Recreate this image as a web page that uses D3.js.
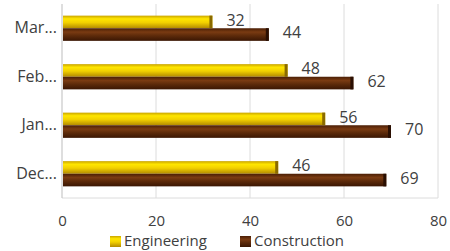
<!DOCTYPE html>
<html>
<head>
<meta charset="utf-8">
<script src="https://cdn.jsdelivr.net/npm/d3@7"></script>
<style>
  body { margin: 0; background: #fff; }
  text { font-family: "Open Sans", "Liberation Sans", Arial, sans-serif; }
</style>
</head>
<body>
<div id="chart"></div>
<script>
// data
var months = ["Mar...", "Feb...", "Jan...", "Dec..."];
var engineering = [32, 48, 56, 46];
var construction = [44, 62, 70, 69];
var seriesNames = ["Engineering", "Construction"];
var xTicks = [0, 20, 40, 60, 80];

var margin = {top: 4, right: 12, bottom: 53, left: 62},
    width = 450 - margin.left - margin.right,
    height = 251 - margin.top - margin.bottom;

var svg = d3.select("#chart").append("svg")
    .attr("width", 450)
    .attr("height", 251);

var defs = svg.append("defs");

// gradients to fake the 3d bar look
var gEng = defs.append("linearGradient").attr("id", "gEng")
    .attr("x1", 0).attr("y1", 0).attr("x2", 0).attr("y2", 1);
gEng.append("stop").attr("offset", "0%").attr("stop-color", "#c9a400");
gEng.append("stop").attr("offset", "25%").attr("stop-color", "#ffe600");
gEng.append("stop").attr("offset", "55%").attr("stop-color", "#f2d000");
gEng.append("stop").attr("offset", "100%").attr("stop-color", "#b38a00");

var gCon = defs.append("linearGradient").attr("id", "gCon")
    .attr("x1", 0).attr("y1", 0).attr("x2", 0).attr("y2", 1);
gCon.append("stop").attr("offset", "0%").attr("stop-color", "#4a1e05");
gCon.append("stop").attr("offset", "30%").attr("stop-color", "#7a3b12");
gCon.append("stop").attr("offset", "60%").attr("stop-color", "#5c2a0a");
gCon.append("stop").attr("offset", "100%").attr("stop-color", "#3a1603");

var g = svg.append("g")
    .attr("transform", "translate(" + margin.left + "," + margin.top + ")");

var x = d3.scaleLinear()
    .domain([0, 80])
    .range([0, width]);

var y = d3.scaleBand()
    .domain(months)
    .range([0, height])
    .paddingInner(0.48)
    .paddingOuter(0.24);

var y1 = d3.scaleBand()
    .domain(seriesNames)
    .range([0, y.bandwidth()]);

// gridlines
g.selectAll(".grid")
  .data(xTicks.slice(1))
  .enter().append("line")
    .attr("x1", function(d) { return x(d); })
    .attr("x2", function(d) { return x(d); })
    .attr("y1", 0)
    .attr("y2", height)
    .attr("stroke", "#dcdcdc")
    .attr("stroke-width", 1);

g.append("line")
    .attr("x1", 0).attr("x2", x(80))
    .attr("y1", height).attr("y2", height)
    .attr("stroke", "#dcdcdc");

g.append("line")
    .attr("x1", 0).attr("x2", 0)
    .attr("y1", 0).attr("y2", height)
    .attr("stroke", "#bdbdbd");

// x axis labels
var xAxis = g.append("g")
    .attr("transform", "translate(0," + height + ")")
    .call(d3.axisBottom(x).tickValues(xTicks).tickSize(0).tickPadding(17));
xAxis.select(".domain").remove();
xAxis.selectAll("text")
    .style("font-size", "15px")
    .attr("fill", "#404040");

// y axis labels
var yAxis = g.append("g")
    .call(d3.axisLeft(y).tickSize(0).tickPadding(5));
yAxis.select(".domain").remove();
yAxis.selectAll("text")
    .style("font-size", "16px")
    .attr("fill", "#404040");

var rows = months.map(function(m, i) {
  return {month: m, values: [
    {key: "Engineering", value: engineering[i]},
    {key: "Construction", value: construction[i]}
  ]};
});

var fill = {Engineering: "url(#gEng)", Construction: "url(#gCon)"};
var edge = {Engineering: "#8a6a00", Construction: "#2a0f02"};

var groups = g.selectAll(".grp")
  .data(rows)
  .enter().append("g")
    .attr("transform", function(d) { return "translate(0," + y(d.month) + ")"; });

groups.selectAll("rect.bar")
  .data(function(d) { return d.values; })
  .enter().append("rect")
    .attr("class", "bar")
    .attr("x", 1)
    .attr("y", function(d) { return y1(d.key); })
    .attr("width", function(d) { return x(d.value) - 1; })
    .attr("height", y1.bandwidth())
    .attr("fill", function(d) { return fill[d.key]; });

// darker end cap
groups.selectAll("rect.cap")
  .data(function(d) { return d.values; })
  .enter().append("rect")
    .attr("x", function(d) { return x(d.value) - 3; })
    .attr("y", function(d) { return y1(d.key); })
    .attr("width", 3)
    .attr("height", y1.bandwidth())
    .attr("fill", function(d) { return edge[d.key]; });

groups.selectAll("text.val")
  .data(function(d) { return d.values; })
  .enter().append("text")
    .attr("x", function(d) { return x(d.value) + 14; })
    .attr("y", function(d) { return y1(d.key) + y1.bandwidth() / 2 - 2; })
    .attr("dy", "0.35em")
    .style("font-size", "16px")
    .attr("fill", "#404040")
    .text(function(d) { return d.value; });

// legend
var legend = svg.append("g")
    .attr("transform", "translate(110,241)");
var legendX = [0, 130];
seriesNames.forEach(function(name, i) {
  legend.append("rect")
      .attr("x", legendX[i])
      .attr("y", -5)
      .attr("width", 11)
      .attr("height", 11)
      .attr("fill", fill[name]);
  legend.append("text")
      .attr("x", legendX[i] + 14)
      .attr("y", 0)
      .attr("dy", "0.35em")
      .style("font-size", "15px")
      .attr("fill", "#404040")
      .text(name);
});
</script>
</body>
</html>
